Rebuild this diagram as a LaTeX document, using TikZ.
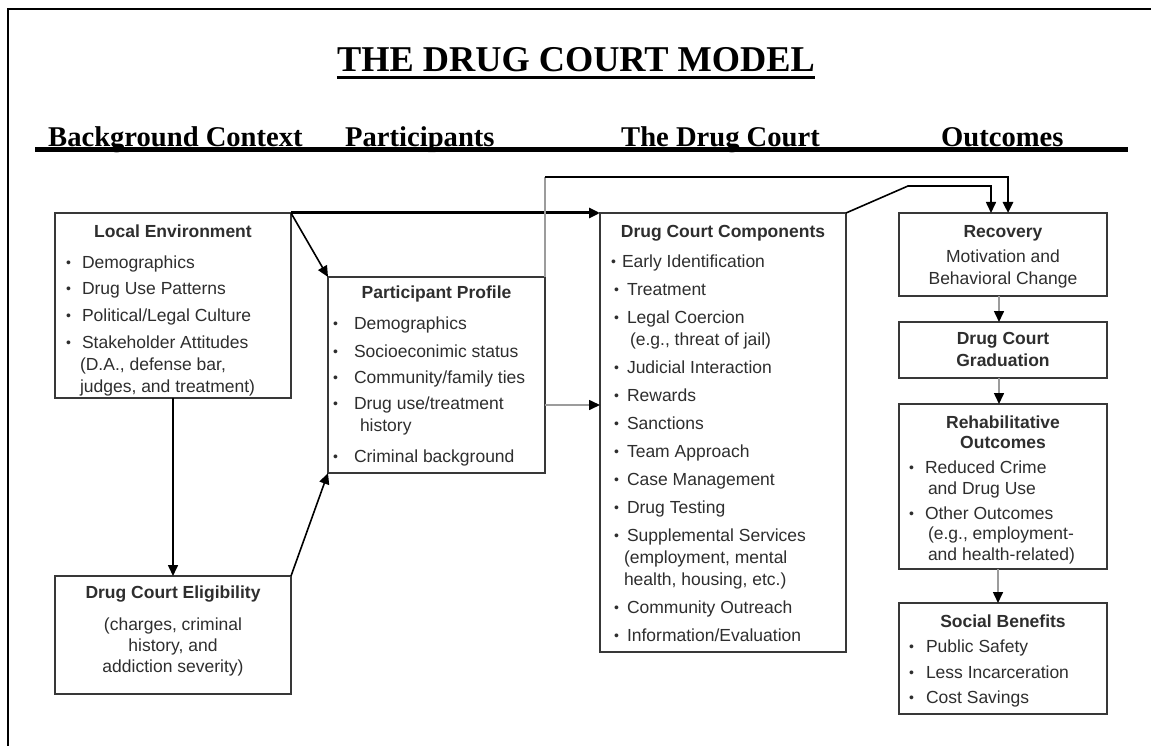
\documentclass[tikz,border=0pt]{standalone}
\usepackage{fontspec}
\setmainfont{Liberation Sans}
\newfontfamily\headfont{Liberation Serif}
\usetikzlibrary{arrows.meta}

\definecolor{ink}{HTML}{2E2E2E}
\definecolor{boxline}{HTML}{383838}
\definecolor{greyline}{HTML}{9C9C9C}

\newlength\bulx
\newlength\txtx
\newcommand{\itmgap}{5pt}
\newcommand{\bodyfont}{\fontsize{17.5}{22}\selectfont}
\newcommand{\dotmark}{\raisebox{0.12ex}{\scalebox{0.8}{\textbullet}}}
\newcommand{\itm}[2][\itmgap]{\par\vspace{#1}\noindent\hangindent=\txtx\hangafter=1\hspace*{\bulx}\makebox[\dimexpr\txtx-\bulx\relax][l]{\dotmark}#2}
\newcommand{\boxbody}[4]{\parbox[c][#2][t]{#1}{\vspace*{#3}#4}}
\newcommand{\boxtitle}[1]{{\centering\bfseries #1\par}}

\begin{document}
\begin{tikzpicture}[x=1pt, y=-1pt,
  box/.style={draw=boxline, line width=1.6pt, inner sep=0pt, outer sep=0pt, anchor=north west, font=\bodyfont, text=ink},
  head/.style={inner sep=0pt, anchor=base west, font=\headfont\bfseries\fontsize{28.6}{30}\selectfont},
  link/.style={draw=black, line width=1.6pt, -{Triangle[length=11pt,width=10pt]}},
  boldlink/.style={link, line width=3pt},
  greylink/.style={draw=greyline, line width=1.6pt, -{Triangle[length=11pt,width=10pt,color=black]}}]

\fill[white] (0,0) rectangle (1151,746);
\useasboundingbox (0,0) rectangle (1151,746);
% frame
\draw[line width=2.7pt] (8,746) -- (8,9) -- (1151,9);

% title and column heads
\node[inner sep=0pt, anchor=base, font=\headfont\bfseries\fontsize{36.3}{40}\selectfont] (title) at (576,72) {THE DRUG COURT MODEL};
\draw[line width=3pt] ([yshift=-6pt]title.base west) -- ([yshift=-6pt]title.base east);
\node[head] (hbg) at (48,147) {Background Context};
\node[head] (hpart) at (345,147) {Participants};
\node[head] (hcourt) at (621,147) {The Drug Court};
\node[head] (hout) at (941,147) {Outcomes};
\draw[line width=4.6pt] (35,149.5) -- (1128,149.5);

% boxes
\node[box] (env) at (55,213) {\boxbody{236pt}{185pt}{12pt}{%
  \setlength\bulx{11pt}\setlength\txtx{27pt}\raggedright
  \boxtitle{Local Environment}
  \itm[8.5pt]{Demographics}
  \itm[4.7pt]{Drug Use Patterns}
  \itm[4.7pt]{Political/Legal Culture}
  \itm[4.7pt]{Stakeholder Attitudes\newline\hspace*{-2pt}(D.A., defense bar,\newline\hspace*{-2pt}judges, and treatment)}}};

\node[box] (elig) at (55,576) {\boxbody{236pt}{118pt}{10pt}{%
  \centering\textbf{Drug Court Eligibility}\par\vspace{11pt}
  \fontsize{17.5}{21}\selectfont
  (charges, criminal\\history, and\\addiction severity)}};

\node[box] (prof) at (328,277) {\boxbody{217pt}{196pt}{9pt}{%
  \setlength\bulx{5pt}\setlength\txtx{26pt}\raggedright
  \boxtitle{Participant Profile}
  \itm[9pt]{Demographics}
  \itm[6pt]{Socioeconimic status}
  \itm[4pt]{Community/family ties}
  \itm[4pt]{Drug use/treatment\newline\hspace*{6pt}history}
  \itm[9pt]{Criminal background}}};

\node[box] (comp) at (600,213) {\boxbody{246pt}{439pt}{12pt}{%
  \setlength\bulx{14pt}\setlength\txtx{27pt}\raggedright
  \boxtitle{Drug Court Components}
  {\setlength\bulx{11pt}\setlength\txtx{22pt}\itm[8pt]{Early Identification}}
  \itm[6pt]{Treatment}
  \itm[6pt]{Legal Coercion\newline\hspace*{3pt}(e.g., threat of jail)}
  \itm[6pt]{Judicial Interaction}
  \itm[6pt]{Rewards}
  \itm[6pt]{Sanctions}
  \itm[6pt]{Team Approach}
  \itm[6pt]{Case Management}
  \itm[6pt]{Drug Testing}
  \itm[6pt]{Supplemental Services\newline\hspace*{-3pt}(employment, mental\newline\hspace*{-3pt}health, housing, etc.)}
  \itm[6pt]{Community Outreach}
  \itm[6pt]{Information/Evaluation}}};

\node[box] (recov) at (899,213) {\boxbody{208pt}{83pt}{12pt}{%
  \centering\textbf{Recovery}\par\vspace{3pt}
  Motivation and\\Behavioral Change}};

\node[box] (grad) at (899,322) {\boxbody{208pt}{56pt}{10pt}{%
  \centering\bfseries Drug Court\\Graduation}};

\node[box] (rehab) at (899,404) {\boxbody{208pt}{165pt}{11.5pt}{%
  \fontsize{17.5}{20.5}\selectfont
  \setlength\bulx{10pt}\setlength\txtx{26pt}\raggedright
  \boxtitle{Rehabilitative\\Outcomes}
  \itm[4.5pt]{Reduced Crime\newline\hspace*{3pt}and Drug Use}
  \itm[4.5pt]{Other Outcomes\newline\hspace*{3pt}(e.g., employment-\newline\hspace*{3pt}and health-related)}}};

\node[box] (soc) at (899,603) {\boxbody{208pt}{111pt}{12pt}{%
  \setlength\bulx{10pt}\setlength\txtx{27pt}\raggedright
  \boxtitle{Social Benefits}
  \itm[3pt]{Public Safety}
  \itm[3.5pt]{Less Incarceration}
  \itm[3.5pt]{Cost Savings}}};

% connectors
\coordinate (ridge) at ([yshift=100pt]prof.north east);
\coordinate (upA) at ([xshift=5pt]recov.north);
\coordinate (upB) at ([xshift=-12pt]recov.north);
\coordinate (bend) at ([shift={(62pt,27pt)}]comp.north east);
\coordinate (side) at ([yshift=-30pt]prof.east);

\draw[boldlink] (env.north east) -- (comp.north west);
\draw[link] (env.north east) -- (prof.north west);
\draw[link] (env.south) -- (elig.north);
\draw[link] (elig.north east) -- (prof.south west);
\draw[greylink] (side) -- (side -| comp.west);
\draw[draw=greyline, line width=1.6pt] (prof.north east) -- (ridge);
\draw[link, line width=2.6pt] (ridge) -| (upA);
\draw[link] (comp.north east) -- (bend) -| (upB);
\draw[greylink] ([xshift=-4pt]recov.south) -- ([xshift=-4pt]grad.north);
\draw[greylink] ([xshift=-4pt]grad.south) -- ([xshift=-4pt]rehab.north);
\draw[greylink] ([xshift=-5pt]rehab.south) -- ([xshift=-5pt]soc.north);
\end{tikzpicture}
\end{document}
